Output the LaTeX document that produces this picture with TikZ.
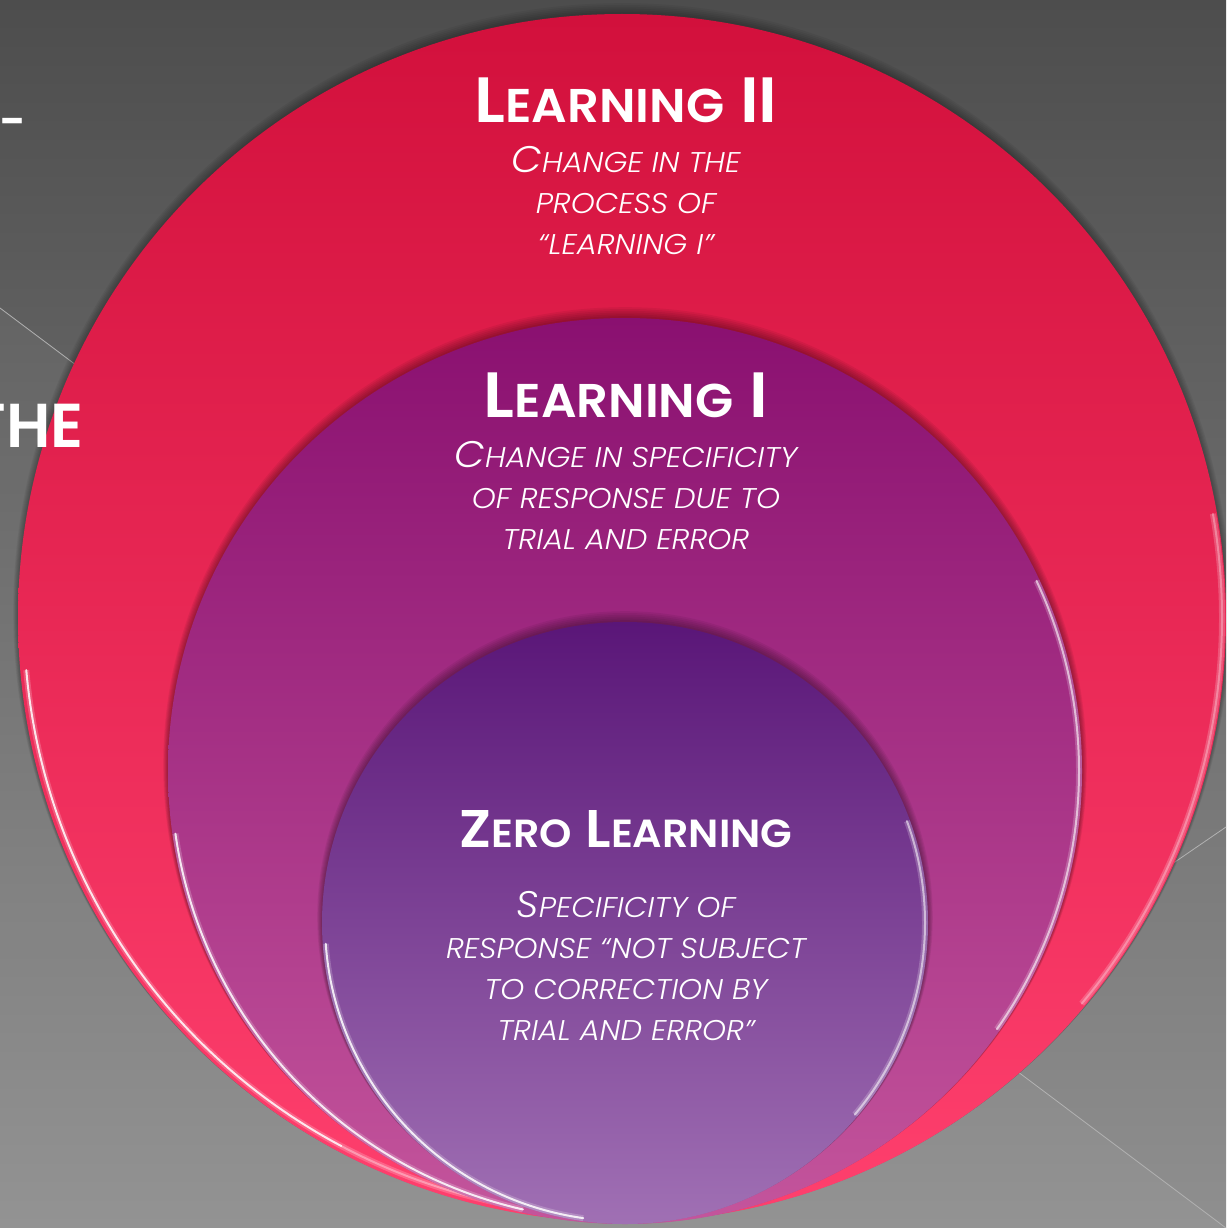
\documentclass[tikz,border=0pt]{standalone}
\usepackage{fontspec}
\setmainfont{Poppins}
\newfontfamily\headfont[FakeStretch=1.05]{Poppins SemiBold}
\newfontfamily\blurbfont[FakeStretch=1.07]{Poppins Light Italic}
\newfontfamily\backfont{Poppins SemiBold}
\usepackage{graphicx}
\usetikzlibrary{positioning}
\definecolor{bgtop}{HTML}{4D4D4D}
\definecolor{bgbot}{HTML}{8F8F8F}
\definecolor{redtop}{HTML}{D2103C}
\definecolor{redbot}{HTML}{FF406E}
\definecolor{magtop}{HTML}{8A1070}
\definecolor{magbot}{HTML}{C4559C}
\definecolor{purtop}{HTML}{5A1678}
\definecolor{purbot}{HTML}{A070B4}
\newcommand{\lo}[1]{\scalebox{0.74}{#1}}
\newcommand{\blo}[1]{\scalebox{0.77}{#1}}
\tikzset{
  title/.style={text=white, anchor=base, inner sep=0pt},
  blurb/.style={text=white, anchor=base, inner sep=0pt, align=center,
    font=\blurbfont\fontsize{37}{41}\selectfont},
  rim/.style={white, line width=2pt, opacity=0.85, line cap=round,
    preaction={draw, white, line width=6pt, opacity=0.2}},
}

\begin{document}
\begin{tikzpicture}[x=1pt,y=-1pt]
  \useasboundingbox (0,0) rectangle (1226,1228);
  \clip (0,0) rectangle (1226,1228);
  % backdrop
  \shade[top color=bgtop, bottom color=bgbot] (0,0) rectangle (1226,1228);
  \fill[white, opacity=0.04] (0,308) -- (1226,1228) -- (0,1228) -- cycle;
  \draw[gray!60, line width=0.8pt] (0,308) -- (1226,1228);
  \draw[gray!60, line width=0.8pt] (1226,827) -- (947,1018);

  % outer circle
  \foreach \k in {1,...,6}
    \fill[black, opacity=0.05] (622,618-\k) ellipse ({604+0.8*\k} and {604+0.8*\k});
  \shade[top color=redtop, bottom color=redbot] (622,618) circle (604);
  \draw[rim] (622,618) ++(118:598) arc[start angle=118, end angle=175, radius=598];
  \draw[rim, opacity=0.35] (622,618) ++(100:598) arc[start angle=100, end angle=118, radius=598];
  \draw[rim, opacity=0.3] (622,618) ++(-10:600) arc[start angle=-10, end angle=40, radius=600];

  % middle circle
  \foreach \k in {1,...,6}
    \fill[black, opacity=0.06] (625,771-\k) ellipse ({457+0.8*\k} and {453+0.8*\k});
  \shade[top color=magtop, bottom color=magbot] (625,771) ellipse (457 and 453);
  \draw[rim] (625,771) ++(103:454 and 450) arc[start angle=103, end angle=172, x radius=454, y radius=450];
  \draw[rim, opacity=0.6] (625,771) ++(-25:454 and 450) arc[start angle=-25, end angle=35, x radius=454, y radius=450];

  % inner circle
  \foreach \k in {1,...,6}
    \fill[black, opacity=0.06] (625,923-\k) ellipse ({303+0.8*\k} and {301+0.8*\k});
  \shade[top color=purtop, bottom color=purbot] (625,923) ellipse (303 and 301);
  \draw[rim] (625,923) ++(98:300 and 298) arc[start angle=98, end angle=176, x radius=300, y radius=298];
  \draw[rim, opacity=0.55] (625,923) ++(-20:300 and 298) arc[start angle=-20, end angle=40, x radius=300, y radius=298];

  % texts
  \node[title, font=\headfont\fontsize{64}{72}\selectfont] (l2) at (626,122) {L\lo{EARNING} II};
  \node[blurb] (l2txt) at (626,254) {C\blo{HANGE IN THE}\\ \blo{PROCESS OF}\\ \blo{“LEARNING I”}};

  \node[title, font=\headfont\fontsize{64}{72}\selectfont] (l1) at (626,417) {L\lo{EARNING} I};
  \node[blurb] (l1txt) at (626,549) {C\blo{HANGE IN SPECIFICITY}\\ \blo{OF RESPONSE DUE TO}\\ \blo{TRIAL AND ERROR}};

  \node[title, font=\headfont\fontsize{53}{60}\selectfont] (l0) at (626,847) {Z\lo{ERO} L\lo{EARNING}};
  \node[blurb] (l0txt) at (626,1040) {S\blo{PECIFICITY OF}\\ \blo{RESPONSE “NOT SUBJECT}\\ \blo{TO CORRECTION BY}\\ \blo{TRIAL AND ERROR”}};

  % slide title behind, cut by the edge
  \node[title, anchor=base east, font=\backfont\fontsize{46}{52}\selectfont] (dash) at (27,138) {-};
  \node[title, anchor=base east, font=\backfont\fontsize{62}{70}\selectfont] (the) at (84,447) {THE};
\end{tikzpicture}
\end{document}
